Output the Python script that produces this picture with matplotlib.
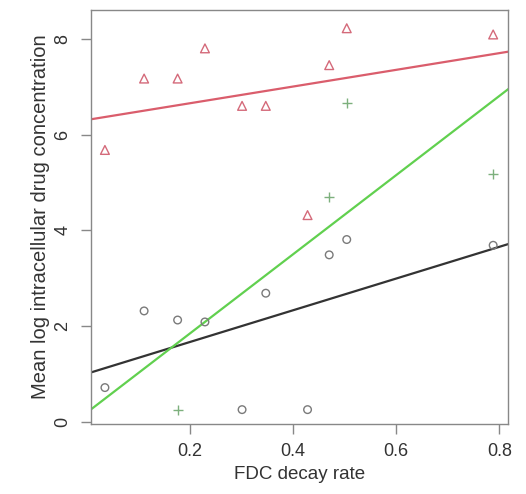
import matplotlib
matplotlib.use('Agg')
import matplotlib.pyplot as plt
import numpy as np

plt.rcParams['font.family'] = ['Liberation Sans', 'DejaVu Sans']

# FDC decay rate for each run
decay = [0.035, 0.111, 0.176, 0.229, 0.301, 0.347, 0.428, 0.470, 0.504, 0.788]

# mean log concentration, triangles (red) and circles (gray)
conc_tri = [5.68, 7.17, 7.17, 7.80, 6.60, 6.60, 4.32, 7.45, 8.22, 8.09]
conc_circ = [0.72, 2.32, 2.13, 2.09, 0.26, 2.69, 0.26, 3.49, 3.81, 3.69]

# plus markers (green), only a few visible
decay_plus = [0.176, 0.470, 0.504, 0.788]
conc_plus = [0.26, 4.70, 6.65, 5.18]

# fitted lines: intercept, slope
fit_red = (6.306, 1.743)
fit_green = (0.199, 8.26)
fit_black = (1.01, 3.31)

red = '#DA5D6C'
green = '#61D04F'
txt = '#333333'

fig = plt.figure(figsize=(5.26, 4.94), dpi=100)
ax = fig.add_axes([0.173, 0.1417, 0.793, 0.838])

xlim = (0.008, 0.817)
xs = np.array(xlim)

ax.plot(xs, fit_black[0] + fit_black[1]*xs, color='#333333', lw=1.6)
ax.plot(xs, fit_red[0] + fit_red[1]*xs, color=red, lw=1.6)
ax.plot(xs, fit_green[0] + fit_green[1]*xs, color=green, lw=1.6)

ax.scatter(decay, conc_circ, s=30, facecolors='none', edgecolors='#7a7a7a', linewidths=1.0, zorder=3)
ax.scatter(decay, conc_tri, s=40, marker='^', facecolors='none', edgecolors='#D46A7A', linewidths=1.0, zorder=3)
ax.scatter(decay_plus, conc_plus, s=45, marker='+', color='#7DB07D', linewidths=1.0, zorder=3)

ax.set_xlim(*xlim)
ax.set_ylim(-0.04, 8.6)
ax.set_xticks([0.2, 0.4, 0.6, 0.8])
ax.set_xticklabels(['0.2', '0.4', '0.6', '0.8'])
ax.set_yticks([0, 2, 4, 6, 8])
ax.set_yticklabels(['0', '2', '4', '6', '8'], rotation=90, va='center')

for s in ax.spines.values():
    s.set_color('#888888')
    s.set_linewidth(1.0)
ax.tick_params(colors='#888888', labelcolor=txt, labelsize=13, length=7, width=1.0, pad=7)

ax.set_xlabel('FDC decay rate', fontsize=13.5, color=txt, labelpad=4)
ax.set_ylabel('Mean log intracellular drug concentration', fontsize=14.5, color=txt, labelpad=3)

fig.savefig('out.png', dpi=100)
